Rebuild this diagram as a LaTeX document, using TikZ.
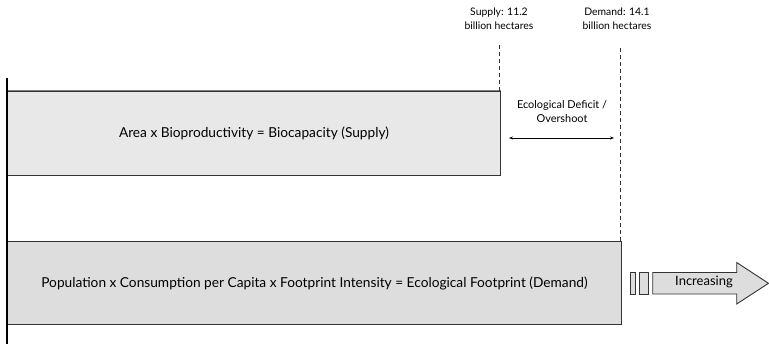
\documentclass[tikz,border=0pt]{standalone}
\usepackage{fontspec}
\setmainfont{Lato}
\usetikzlibrary{arrows.meta,shapes.arrows}
\definecolor{supfill}{HTML}{E8E8E8}
\definecolor{demfill}{HTML}{DDDDDD}
\definecolor{edgegray}{HTML}{333333}
\tikzset{
  box/.style={draw=edgegray, line width=0.9pt, anchor=north west, inner sep=0pt, font=\fontsize{13.7}{16}\selectfont},
  lbl/.style={font=\fontsize{10.4}{14}\selectfont, align=center, inner sep=0pt},
  dashline/.style={draw=edgegray, line width=0.9pt, dash pattern=on 4pt off 3pt},
  smallrect/.style={draw=edgegray, fill=demfill, line width=0.9pt},
}
\begin{document}
\begin{tikzpicture}[x=1pt,y=-1pt]
\useasboundingbox (0,0) rectangle (769,344);
% boxes
\node[box, fill=supfill, minimum width=493pt, minimum height=84pt] (supply) at (7,91) {Area x Bioproductivity = Biocapacity (Supply)};
\draw[draw=gray, line width=1pt] (supply.north west) -- (supply.north east);
\node[box, fill=demfill, minimum width=614pt, minimum height=83pt] (demand) at (7,241) {Population x Consumption per Capita x Footprint Intensity = Ecological Footprint (Demand)};
% axis
\coordinate (axtop) at (7,78);
\coordinate (axbot) at (7,344);
\draw[line width=1.2pt, black] (axtop) -- (axbot);
% dashed lines
\coordinate (sdash) at (499.5,45);
\coordinate (ddash) at (620.5,48);
\draw[dashline] (sdash) -- (sdash |- supply.north);
\draw[dashline] (ddash) -- (ddash |- demand.north);
% top labels
\node[lbl] (slbl) at (499,19) {Supply: 11.2\\billion hectares};
\node[lbl] (dlbl) at (617,19) {Demand: 14.1\\billion hectares};
\node[lbl, font=\fontsize{10.9}{13.5}\selectfont] (deflbl) at (562,111.5) {Ecological Deficit /\\Overshoot};
\coordinate (defl) at (509,138);
\coordinate (defr) at (614,138);
\draw[{Stealth[length=4pt,width=3pt]}-{Stealth[length=4pt,width=3pt]}, line width=0.8pt] (defl) -- (defr);
% increasing arrow
\draw[smallrect] (630.7,272.5) rectangle (635.7,294);
\draw[smallrect] (639,272.5) rectangle (648.7,294);
\draw[smallrect] (652.7,272.5) -- (736.7,272.5) -- (736.7,262.5) -- (768.5,283.3) -- (736.7,304) -- (736.7,294) -- (652.7,294) -- cycle;
\node[font=\fontsize{13}{15}\selectfont, inner sep=0pt] (inc) at (704,282) {Increasing};
\end{tikzpicture}
\end{document}
